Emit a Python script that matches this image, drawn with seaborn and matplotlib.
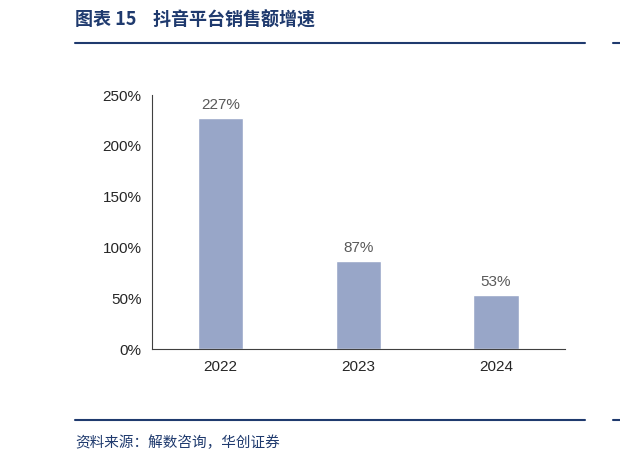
import matplotlib
matplotlib.use("Agg")
import matplotlib.pyplot as plt
import seaborn as sns
import pandas as pd

years = ["2022", "2023", "2024"]
growth = [2.27, 0.87, 0.53]
labels = ["227%", "87%", "53%"]
yticks = [0, 0.5, 1.0, 1.5, 2.0, 2.5]
ytick_labels = ["0%", "50%", "100%", "150%", "200%", "250%"]

sns.set_style("white")
plt.rcParams['font.family'] = ['Noto Sans CJK SC', 'DejaVu Sans']

fig = plt.figure(figsize=(6.2, 4.66), dpi=100)
ax = fig.add_axes([0.245, 0.251, 0.666, 0.545])
df = pd.DataFrame({"year": years, "growth": growth})
sns.barplot(data=df, x="year", y="growth", color="#98A6C8", saturation=1, width=0.33, ax=ax)
for i, (v, t) in enumerate(zip(growth, labels)):
    ax.text(i, v + 0.06, t, ha="center", va="bottom", fontsize=11, color="#595959", family="Liberation Sans")
ax.set_ylim(0, 2.5)
ax.set_xlim(-0.5, 2.5)
ax.set_yticks(yticks)
ax.set_yticklabels(ytick_labels, family="Liberation Sans", fontsize=11)
for t in ax.get_xticklabels():
    t.set_family("Liberation Sans"); t.set_fontsize(11)
ax.set_xlabel(""); ax.set_ylabel("")
ax.set_xticks([-0.5, 0.5, 1.5, 2.5], minor=True)
ax.tick_params(axis="x", which="major", length=0, pad=8)
ax.tick_params(axis="x", which="minor", length=4, direction="out", color="#404040")
ax.tick_params(axis="y", length=4, direction="out", color="#404040")
for s in ["top", "right"]:
    ax.spines[s].set_visible(False)
for s in ["left", "bottom"]:
    ax.spines[s].set_color("#404040"); ax.spines[s].set_linewidth(0.8)

navy = "#1F3A6E"
fig.text(75/620, 1-20/466, "图表 15    抖音平台销售额增速", fontsize=13, fontweight="bold", color=navy, va="center")
fig.add_artist(plt.Line2D([75/620, 585/620], [1-43/466]*2, color=navy, lw=1.5))
fig.add_artist(plt.Line2D([75/620, 585/620], [1-420/466]*2, color=navy, lw=1.5))
fig.add_artist(plt.Line2D([613/620, 1.0], [1-43/466]*2, color=navy, lw=1.5))
fig.add_artist(plt.Line2D([613/620, 1.0], [1-420/466]*2, color=navy, lw=1.5))
fig.text(75/620, 1-443/466, "资料来源：解数咨询，华创证券", fontsize=10.5, style="italic", color=navy, va="center")
fig.savefig("out.png", dpi=100)
